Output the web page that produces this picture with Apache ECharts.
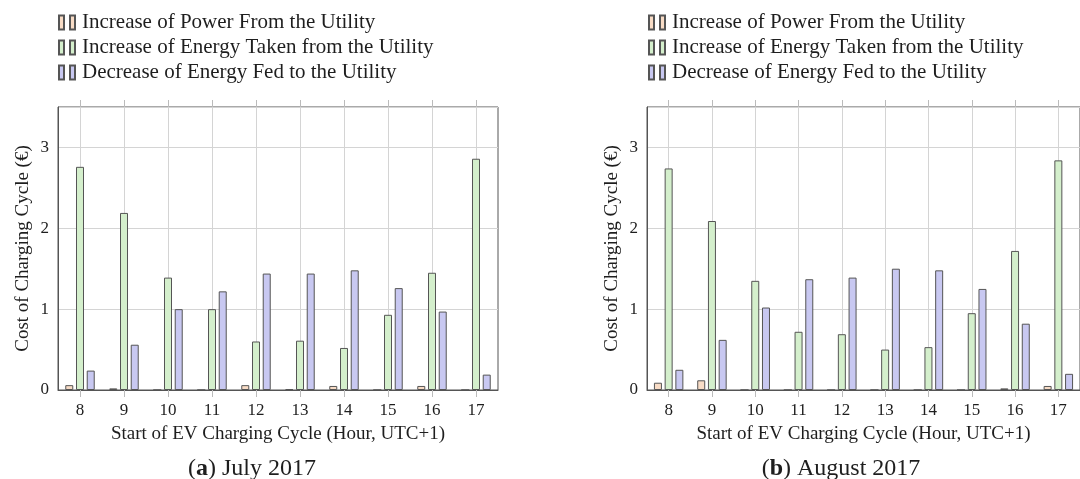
<!DOCTYPE html>
<html>
<head>
<meta charset="utf-8">
<script src="https://cdn.jsdelivr.net/npm/echarts@6/dist/echarts.min.js"></script>
<style>
html,body{margin:0;padding:0;background:#fff;}
#chart{width:1080px;height:479px;}
</style>
</head>
<body>
<div id="chart"></div>
<script>
// ---- data ----
const categories = ['8','9','10','11','12','13','14','15','16','17'];
const seriesNames = ['Increase of Power From the Utility','Increase of Energy Taken from the Utility','Decrease of Energy Fed to the Utility'];
const yTicks = [0, 1, 2, 3];
// (a) July 2017
const julyPower  = [0.06, 0.02, 0, 0, 0.06, 0.01, 0.05, 0, 0.05, 0];
const julyTaken  = [2.76, 2.19, 1.39, 1.00, 0.60, 0.61, 0.52, 0.93, 1.45, 2.86];
const julyFed    = [0.24, 0.56, 1.00, 1.22, 1.44, 1.44, 1.48, 1.26, 0.97, 0.19];
// (b) August 2017
const augPower   = [0.09, 0.12, 0, 0, 0, 0, 0, 0, 0.02, 0.05];
const augTaken   = [2.74, 2.09, 1.35, 0.72, 0.69, 0.50, 0.53, 0.95, 1.72, 2.84];
const augFed     = [0.25, 0.62, 1.02, 1.37, 1.39, 1.50, 1.48, 1.25, 0.82, 0.20];
const captions = ['({b|a}) July 2017', '({b|b}) August 2017'];
const yTitle = 'Cost of Charging Cycle (\u20AC)';
const xTitle = 'Start of EV Charging Cycle (Hour, UTC+1)';

// ---- styles ----
const FONT = '"Liberation Serif", "Times New Roman", serif';
const TXT = '#1e1e1e';
const fills = ['#f8dcc6', '#d4efcc', '#c8c8f1'];
const EDGE = '#555';
const GRIDC = '#d4d4d4';
const icon = 'path://M0,0H5V14H0Z M11,0H16V14H11Z';

const grids = [
  {left: 58, top: 107, width: 440, height: 283},
  {left: 647, top: 107, width: 440, height: 283}
];

function xAxes(gi){
  return [
    {
      type: 'category', gridIndex: gi, data: categories, position: 'bottom',
      axisLine: {show: true, lineStyle: {color: EDGE, width: 1}},
      axisTick: {show: true, alignWithLabel: true, length: 7, lineStyle: {color: '#bbb'}},
      axisLabel: {color: TXT, fontFamily: FONT, fontSize: 17, margin: 12},
      splitLine: {show: true, alignWithLabel: true, lineStyle: {color: GRIDC, width: 1}},
      name: xTitle, nameLocation: 'middle', nameGap: 35,
      nameTextStyle: {color: TXT, fontFamily: FONT, fontSize: 19}
    },
    {
      type: 'category', gridIndex: gi, data: categories, position: 'top',
      axisLine: {show: false},
      axisTick: {show: true, alignWithLabel: true, length: 7, lineStyle: {color: '#bbb'}},
      axisLabel: {show: false},
      splitLine: {show: false}
    }
  ];
}

function yAxis(gi){
  return {
    type: 'value', gridIndex: gi, min: 0, max: 3.5, interval: 1,
    axisLine: {show: true, lineStyle: {color: EDGE, width: 1}},
    axisTick: {show: false},
    axisLabel: {color: TXT, fontFamily: FONT, fontSize: 17, margin: 9, showMaxLabel: false,
      formatter: v => yTicks.indexOf(v) >= 0 ? String(v) : ''},
    splitLine: {show: true, lineStyle: {color: GRIDC, width: 1}},
    name: yTitle, nameLocation: 'middle', nameGap: 25,
    nameTextStyle: {color: TXT, fontFamily: FONT, fontSize: 19}
  };
}

function bars(gi, arrs){
  return arrs.map((d, i) => ({
    type: 'bar', name: seriesNames[i], xAxisIndex: gi * 2, yAxisIndex: gi,
    data: d, barWidth: 8, barGap: '34%',
    itemStyle: {color: fills[i], borderColor: EDGE, borderWidth: 1},
    emphasis: {disabled: true}, animation: false
  }));
}

function legend(left){
  return {
    orient: 'vertical', left: left, top: 12, padding: 0,
    itemWidth: 16, itemHeight: 14, itemGap: 4,
    icon: icon, data: seriesNames, selectedMode: false,
    textStyle: {color: TXT, fontFamily: FONT, fontSize: 21, padding: [0, 0, 0, 2]}
  };
}

const chart = echarts.init(document.getElementById('chart'), null, {renderer: 'canvas'});
chart.setOption({
  backgroundColor: '#fff',
  animation: false,
  grid: grids.map(g => Object.assign({show: true, borderColor: EDGE, borderWidth: 1, backgroundColor: 'transparent'}, g)),
  legend: [legend(58), legend(648)],
  xAxis: xAxes(0).concat(xAxes(1)),
  yAxis: [yAxis(0), yAxis(1)],
  series: bars(0, [julyPower, julyTaken, julyFed]).concat(bars(1, [augPower, augTaken, augFed])),
  title: [
    {text: captions[0], left: 247, top: 452, textAlign: 'center',
     textStyle: {color: TXT, fontFamily: FONT, fontSize: 24, fontWeight: 'normal',
       rich: {b: {fontFamily: FONT, fontSize: 24, fontWeight: 'bold', color: TXT}}}},
    {text: captions[1], left: 836, top: 452, textAlign: 'center',
     textStyle: {color: TXT, fontFamily: FONT, fontSize: 24, fontWeight: 'normal',
       rich: {b: {fontFamily: FONT, fontSize: 24, fontWeight: 'bold', color: TXT}}}}
  ]
});
</script>
</body>
</html>
